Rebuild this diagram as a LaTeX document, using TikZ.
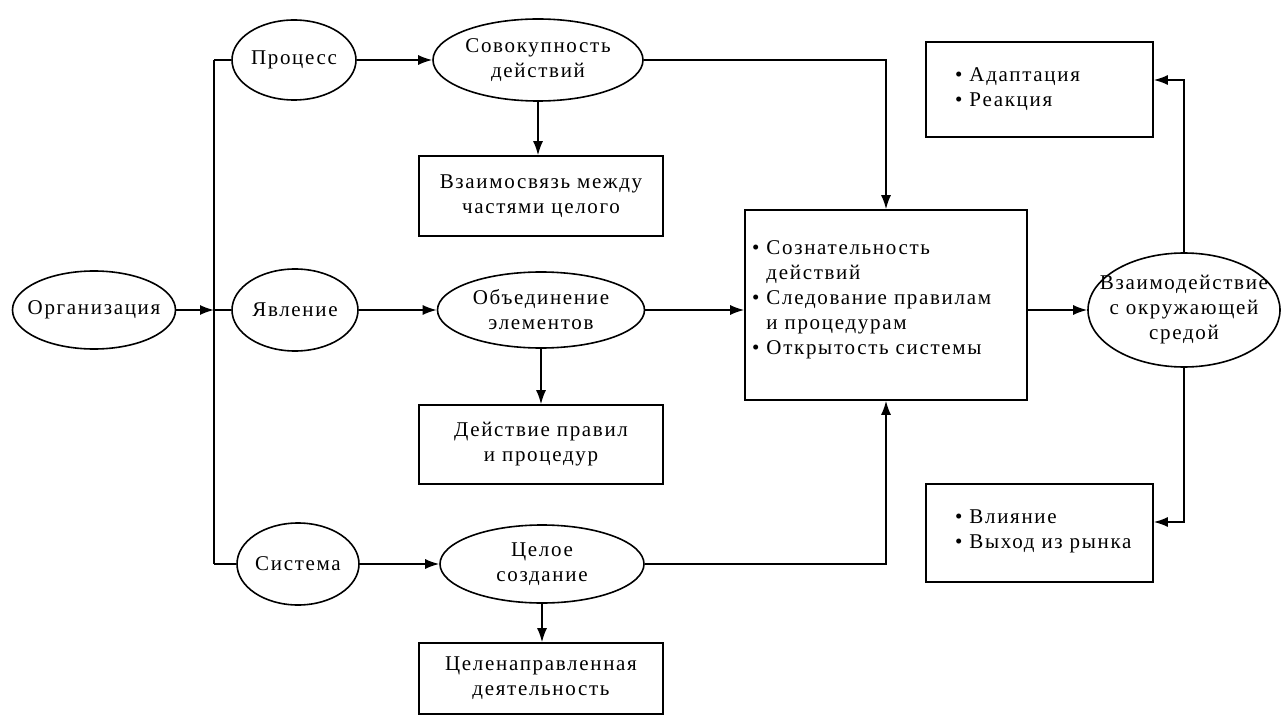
\documentclass[tikz,border=0pt]{standalone}
\usepackage{fontspec}
\setmainfont{Liberation Serif}[LetterSpace=8]
\usetikzlibrary{shapes.geometric,arrows.meta,calc}

\begin{document}
\begin{tikzpicture}[x=1pt,y=-1pt,
  every node/.style={font=\fontsize{21}{25}\selectfont},
  oval/.style={draw, ellipse, line width=1.6pt, inner xsep=-40pt, inner ysep=-14pt, align=center},
  card/.style={draw, rectangle, line width=1.6pt, inner sep=0pt, align=center},
  txt/.style={inner sep=0pt, align=left},
  link/.style={line width=1.6pt},
  arr/.style={link, -{Latex[length=14pt,width=10pt]}},
]
\useasboundingbox (0,0) rectangle (1282,722);

% left column
\node[oval, minimum width=163pt, minimum height=78pt] (org) at (94,310) {Организация};
\node[oval, minimum width=124pt, minimum height=80pt] (proc) at (294,60) {Процесс};
\node[oval, minimum width=126pt, minimum height=82pt] (phen) at (295,310) {Явление};
\node[oval, minimum width=122pt, minimum height=82pt] (sys) at (298,564) {Система};

% spine
\coordinate (sTop) at (214,60);
\coordinate (sMid) at (214,310);
\coordinate (sBot) at (214,564);
\draw[link] (sTop) -- (sBot);
\draw[arr] (org.east) -- (sMid);
\draw[link] (sTop) -- (proc.west);
\draw[link] (sMid) -- (phen.west);
\draw[link] (sBot) -- (sys.west);

% middle column
\node[oval, minimum width=210pt, minimum height=82pt] (agg) at (538,60) {Совокупность\\действий};
\node[oval, minimum width=207pt, minimum height=76pt] (unite) at (541,310) {Объединение\\элементов};
\node[oval, minimum width=204pt, minimum height=78pt] (whole) at (542,564) {Целое\\создание};

\node[card, minimum width=244pt, minimum height=80pt] (ties) at (541,196) {Взаимосвязь между\\частями целого};
\node[card, minimum width=244pt, minimum height=79pt] (rules) at (541,444.5) {Действие правил\\и процедур};
\node[card, minimum width=244pt, minimum height=71pt] (goal) at (541,678.5) {Целенаправленная\\деятельность};

\draw[arr] (proc.east) -- (agg.west);
\draw[arr] (phen.east) -- (unite.west);
\draw[arr] (sys.east) -- (whole.west);
\draw[arr] (agg.south) -- (agg.south |- ties.north);
\draw[arr] (unite.south) -- (unite.south |- rules.north);
\draw[arr] (whole.south) -- (whole.south |- goal.north);

% central box
\node[card, minimum width=282pt, minimum height=190pt] (core) at (886,305) {};
\node[txt, anchor=west] (coreText) at (752,300) {• Сознательность\\\hphantom{• }действий\\• Следование правилам\\\hphantom{• }и процедурам\\• Открытость системы};

\draw[arr] (agg.east) -| (core.north);
\draw[arr] (whole.east) -| (core.south);
\draw[arr] (unite.east) -- (unite.east -| core.west);

% right side
\node[oval, minimum width=192pt, minimum height=114pt] (env) at (1184,310) {Взаимодействие\\с окружающей\\средой};
\draw[arr] (core.east |- env.west) -- (env.west);

\node[card, minimum width=227pt, minimum height=95pt] (adapt) at (1039.5,89.5) {};
\node[txt, anchor=west] (adaptText) at (955,89) {• Адаптация\\• Реакция};
\node[card, minimum width=227pt, minimum height=98pt] (infl) at (1039.5,533) {};
\node[txt, anchor=west] (inflText) at (955,531) {• Влияние\\• Выход из рынка};

\coordinate (aIn) at (adapt.east |- 0,80);
\coordinate (bIn) at (infl.east |- 0,522);
\draw[arr] (env.north) |- (aIn);
\draw[arr] (env.south) |- (bIn);
\end{tikzpicture}
\end{document}
